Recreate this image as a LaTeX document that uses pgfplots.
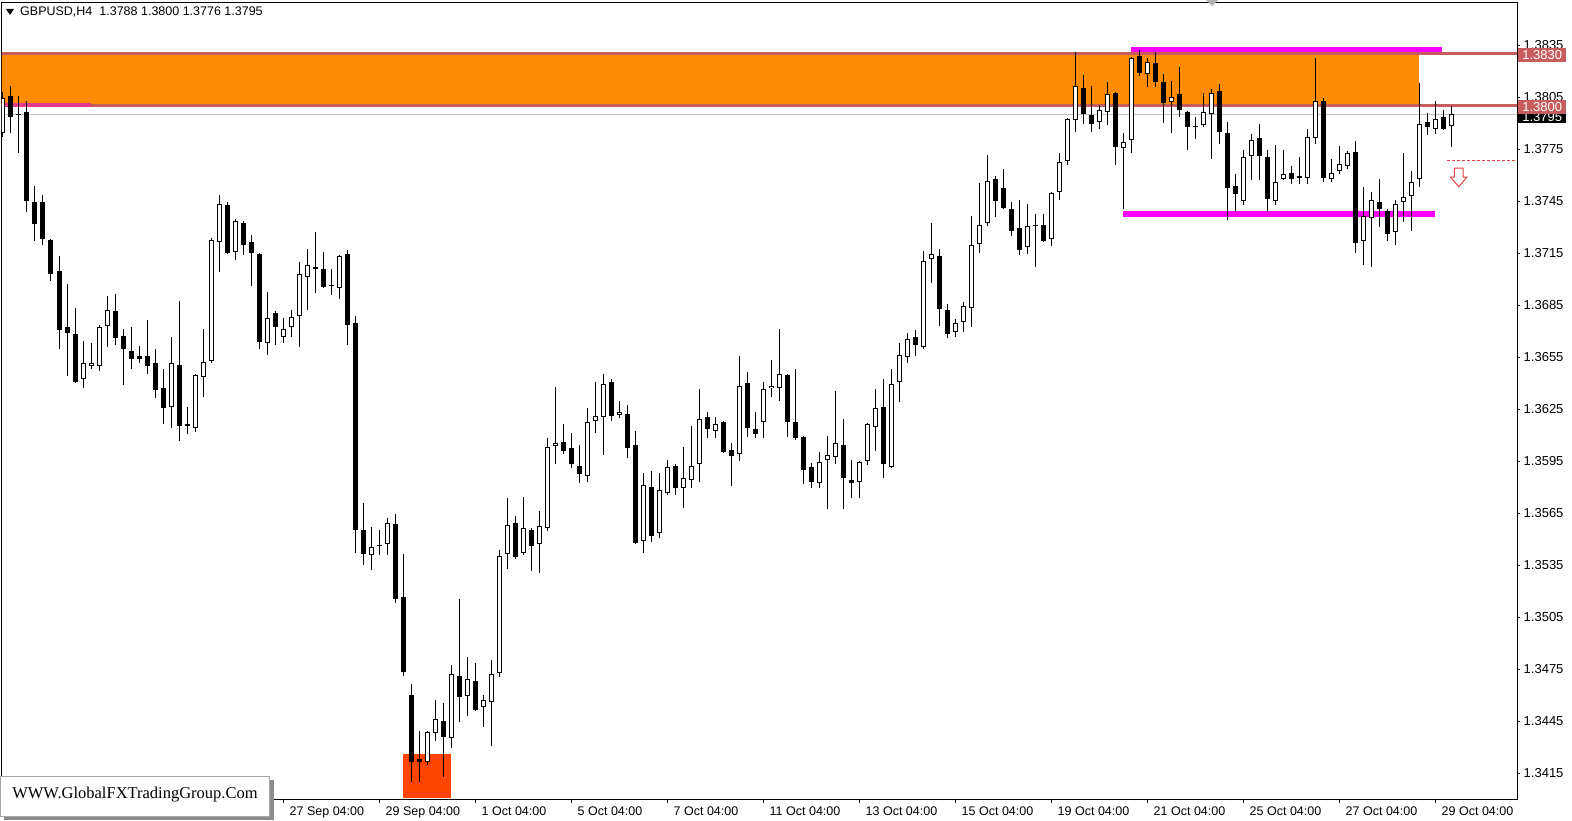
\documentclass[border=0pt]{standalone}
\usepackage{pgfplots}
\pgfplotsset{compat=1.18}
\usepackage{pgfplotstable}
\usepackage{fontspec}
\setmainfont{Liberation Sans}
\newfontfamily\wmfont{Liberation Serif}

\definecolor{zoneorange}{RGB}{255,140,0}
\definecolor{levelred}{RGB}{200,92,92}
\definecolor{mag}{RGB}{255,0,255}
\definecolor{boxred}{RGB}{255,69,0}
\definecolor{pinkline}{RGB}{232,56,140}
\definecolor{arrowred}{RGB}{224,64,64}
\definecolor{curgray}{RGB}{192,192,192}

% bullish candles: index, open, high, low, close
\pgfplotstableread{
i O H L C
0 1.37842 1.38079 1.37819 1.38044
10 1.36423 1.36642 1.36371 1.36515
11 1.36498 1.36631 1.36481 1.36515
12 1.36498 1.36735 1.36469 1.36723
13 1.36729 1.36902 1.36608 1.36821
21 1.36262 1.36665 1.36140 1.36515
24 1.36140 1.36450 1.36117 1.36446
25 1.36435 1.36712 1.36319 1.36521
26 1.36527 1.37237 1.36515 1.37225
27 1.37214 1.37485 1.37040 1.37433
29 1.37156 1.37346 1.37110 1.37335
33 1.36631 1.36925 1.36562 1.36775
35 1.36665 1.36775 1.36631 1.36712
36 1.36723 1.36821 1.36665 1.36781
37 1.36787 1.37098 1.36608 1.37029
38 1.37012 1.37173 1.36821 1.37081
42 1.36948 1.37140 1.36885 1.37133
46 1.35408 1.35569 1.35321 1.35454
47 1.35462 1.35552 1.35408 1.35468
48 1.35471 1.35621 1.35408 1.35592
53 1.34213 1.34392 1.34196 1.34386
54 1.34381 1.34571 1.34335 1.34462
56 1.34352 1.34773 1.34294 1.34721
58 1.34594 1.34819 1.34479 1.34692
60 1.34531 1.34600 1.34415 1.34571
61 1.34560 1.34802 1.34306 1.34721
62 1.34727 1.35437 1.34704 1.35402
63 1.35413 1.35737 1.35327 1.35581
65 1.35419 1.35742 1.35408 1.35564
67 1.35471 1.35662 1.35304 1.35575
68 1.35564 1.36083 1.35546 1.36031
69 1.36037 1.36377 1.35933 1.36054
73 1.35863 1.36256 1.35829 1.36175
74 1.36181 1.36406 1.36112 1.36210
75 1.36204 1.36452 1.35985 1.36394
77 1.36215 1.36296 1.36198 1.36233
80 1.35488 1.35881 1.35419 1.35812
82 1.35535 1.35881 1.35506 1.35783
83 1.35765 1.35956 1.35754 1.35915
85 1.35794 1.36031 1.35679 1.35852
86 1.35840 1.36152 1.35794 1.35921
87 1.35933 1.36365 1.35829 1.36192
89 1.36123 1.36204 1.36083 1.36163
92 1.35990 1.36556 1.35950 1.36383
95 1.36175 1.36406 1.36083 1.36365
96 1.36371 1.36533 1.36319 1.36383
97 1.36371 1.36712 1.36296 1.36452
102 1.35823 1.36002 1.35794 1.35944
103 1.35956 1.36094 1.35673 1.35985
104 1.35973 1.36354 1.35933 1.36054
107 1.35829 1.35950 1.35737 1.35944
108 1.35950 1.36170 1.35927 1.36163
109 1.36146 1.36365 1.36008 1.36256
111 1.35915 1.36481 1.35910 1.36394
112 1.36406 1.36631 1.36290 1.36562
113 1.36550 1.36689 1.36515 1.36654
115 1.36608 1.37162 1.36596 1.37104
116 1.37115 1.37323 1.36977 1.37144
119 1.36694 1.36769 1.36665 1.36746
120 1.36752 1.36867 1.36694 1.36844
121 1.36833 1.37363 1.36723 1.37196
122 1.37202 1.37554 1.37150 1.37312
123 1.37323 1.37715 1.37306 1.37565
128 1.37185 1.37433 1.37144 1.37306
131 1.37231 1.37500 1.37190 1.37496
132 1.37502 1.37727 1.37456 1.37675
133 1.37681 1.37929 1.37658 1.37923
134 1.37917 1.38310 1.37848 1.38113
137 1.37906 1.38004 1.37865 1.37975
138 1.37963 1.38137 1.37888 1.38067
140 1.37756 1.37842 1.37404 1.37790
141 1.37802 1.38281 1.37727 1.38275
143 1.38183 1.38275 1.38108 1.38252
146 1.38021 1.38142 1.37842 1.38050
150 1.37888 1.38073 1.37877 1.37963
151 1.37952 1.38096 1.37692 1.38073
155 1.37450 1.37744 1.37427 1.37704
156 1.37710 1.37837 1.37571 1.37802
159 1.37450 1.37773 1.37427 1.37560
160 1.37577 1.37744 1.37570 1.37606
162 1.37583 1.37704 1.37548 1.37594
163 1.37583 1.37865 1.37548 1.37819
164 1.37814 1.38275 1.37779 1.38027
166 1.37577 1.37692 1.37560 1.37612
167 1.37623 1.37767 1.37606 1.37664
168 1.37652 1.37739 1.37635 1.37727
170 1.37219 1.37531 1.37081 1.37363
171 1.37352 1.37502 1.37069 1.37456
174 1.37271 1.37456 1.37196 1.37433
175 1.37444 1.37727 1.37329 1.37473
176 1.37479 1.37623 1.37277 1.37560
177 1.37577 1.38131 1.37531 1.37894
179 1.37865 1.38027 1.37837 1.37923
181 1.37880 1.38000 1.37760 1.37950
}\bull

% bearish candles: index, open, high, low, close
\pgfplotstableread{
i O H L C
1 1.38056 1.38113 1.37842 1.37935
2 1.37952 1.38056 1.37727 1.37946
3 1.37963 1.38027 1.37386 1.37450
4 1.37444 1.37536 1.37219 1.37317
5 1.37444 1.37485 1.37196 1.37231
6 1.37225 1.37230 1.36988 1.37029
7 1.37046 1.37133 1.36596 1.36706
8 1.36723 1.36971 1.36440 1.36689
9 1.36683 1.36833 1.36400 1.36406
14 1.36815 1.36913 1.36619 1.36660
15 1.36671 1.36712 1.36388 1.36596
16 1.36585 1.36723 1.36481 1.36538
17 1.36556 1.36613 1.36515 1.36538
18 1.36556 1.36763 1.36452 1.36498
19 1.36515 1.36596 1.36313 1.36360
20 1.36371 1.36481 1.36163 1.36256
22 1.36504 1.36873 1.36065 1.36152
23 1.36163 1.36262 1.36106 1.36152
28 1.37427 1.37444 1.37144 1.37150
30 1.37323 1.37335 1.37139 1.37196
31 1.37214 1.37254 1.36960 1.37150
32 1.37144 1.37150 1.36596 1.36637
34 1.36804 1.36815 1.36619 1.36723
39 1.37069 1.37271 1.36919 1.37058
40 1.37058 1.37156 1.36948 1.36954
41 1.36965 1.37058 1.36908 1.36960
43 1.37144 1.37167 1.36619 1.36735
44 1.36746 1.36787 1.35419 1.35552
45 1.35552 1.35708 1.35350 1.35413
49 1.35587 1.35644 1.35131 1.35154
50 1.35165 1.35413 1.34710 1.34733
51 1.34600 1.34663 1.34098 1.34213
52 1.34231 1.34392 1.34098 1.34213
55 1.34450 1.34554 1.34127 1.34358
57 1.34710 1.35154 1.34444 1.34589
59 1.34681 1.34785 1.34510 1.34514
64 1.35592 1.35633 1.35385 1.35396
66 1.35552 1.35564 1.35315 1.35460
70 1.36060 1.36163 1.35990 1.36008
71 1.36025 1.36112 1.35910 1.35933
72 1.35921 1.36042 1.35823 1.35875
76 1.36406 1.36423 1.36181 1.36210
78 1.36221 1.36273 1.35967 1.36025
79 1.36042 1.36123 1.35470 1.35477
81 1.35800 1.35892 1.35483 1.35517
84 1.35921 1.35933 1.35754 1.35794
88 1.36204 1.36233 1.36083 1.36135
90 1.36175 1.36181 1.35998 1.36002
91 1.36013 1.36054 1.35806 1.35979
93 1.36400 1.36464 1.36089 1.36140
94 1.36135 1.36233 1.36083 1.36106
98 1.36446 1.36452 1.36089 1.36175
99 1.36175 1.36481 1.36071 1.36083
100 1.36089 1.36094 1.35817 1.35898
101 1.35915 1.35939 1.35794 1.35829
105 1.36042 1.36192 1.35673 1.35852
106 1.35840 1.35956 1.35737 1.35823
110 1.36262 1.36423 1.35852 1.35933
114 1.36665 1.36706 1.36556 1.36619
117 1.37133 1.37173 1.36729 1.36827
118 1.36821 1.36856 1.36660 1.36683
124 1.37577 1.37594 1.37358 1.37450
125 1.37525 1.37635 1.37404 1.37410
126 1.37404 1.37444 1.37248 1.37277
127 1.37294 1.37456 1.37139 1.37167
129 1.37312 1.37375 1.37069 1.37306
130 1.37312 1.37375 1.37215 1.37219
135 1.38102 1.38177 1.37894 1.37952
136 1.37946 1.38113 1.37848 1.37894
139 1.38073 1.38080 1.37658 1.37762
142 1.38287 1.38321 1.38171 1.38188
144 1.38246 1.38310 1.38108 1.38137
145 1.38137 1.38183 1.37900 1.38015
147 1.38067 1.38223 1.37935 1.37975
148 1.37963 1.37970 1.37744 1.37877
149 1.37880 1.37935 1.37808 1.37874
152 1.38085 1.38125 1.37779 1.37848
153 1.37842 1.37906 1.37340 1.37525
154 1.37536 1.37606 1.37386 1.37490
157 1.37814 1.37894 1.37571 1.37710
158 1.37704 1.37744 1.37386 1.37462
161 1.37612 1.37652 1.37548 1.37577
165 1.38027 1.38044 1.37560 1.37583
169 1.37733 1.37796 1.37150 1.37208
172 1.37444 1.37577 1.37300 1.37404
173 1.37392 1.37404 1.37219 1.37260
178 1.37906 1.37958 1.37831 1.37877
180 1.37935 1.37975 1.37860 1.37865
}\bear

\begin{document}
\begin{tikzpicture}[x=1pt,y=1pt]
\fill[white] (0,0) rectangle (1572,821);
\begin{axis}[
  at={(2pt,21pt)}, anchor=south west,
  scale only axis, width=1515pt, height=797pt,
  xmin=-0.125, xmax=189.25, ymin=1.339942, ymax=1.385923,
  axis line style={black, line width=1pt},
  clip mode=individual,
  xtick={11,23,35,47,59,71,83,95,107,119,131,143,155,167,179},
  xticklabels={21 Sep 04:00,23 Sep 04:00,27 Sep 04:00,29 Sep 04:00,1 Oct 04:00,5 Oct 04:00,7 Oct 04:00,11 Oct 04:00,13 Oct 04:00,15 Oct 04:00,19 Oct 04:00,21 Oct 04:00,25 Oct 04:00,27 Oct 04:00,29 Oct 04:00},
  ytick={1.3415,1.3445,1.3475,1.3505,1.3535,1.3565,1.3595,1.3625,1.3655,1.3685,1.3715,1.3745,1.3775,1.3805,1.3835},
  yticklabels={1.3415,1.3445,1.3475,1.3505,1.3535,1.3565,1.3595,1.3625,1.3655,1.3685,1.3715,1.3745,1.3775,1.3805,1.3835},
  xtick pos=left, ytick pos=right, yticklabel pos=right,
  tick align=outside, major tick length=3pt,
  tick style={black, line width=0.8pt},
  ticklabel style={font=\fontsize{12.5pt}{14pt}\selectfont, black},
  x tick label style={anchor=north west, inner sep=0pt, xshift=6.5pt, yshift=-4pt},
  y tick label style={anchor=west, inner sep=0pt, xshift=3.5pt, font=\fontsize{13pt}{14pt}\selectfont},
]
% supply/demand zone and levels
\addplot[draw=none, fill=zoneorange, forget plot] coordinates {(-0.2,1.3830) (177.0,1.3830) (177.0,1.3800) (-0.2,1.3800)};
\addplot[draw=none, fill=boxred, forget plot] coordinates {(50.0,1.34260) (55.96,1.34260) (55.96,1.34004) (50.0,1.34004)};
\addplot[curgray, line width=1pt, forget plot] coordinates {(-0.2,1.3795) (189.5,1.3795)};
\addplot[levelred, line width=3.2pt, forget plot] coordinates {(-0.2,1.3830) (189.5,1.3830)};
\addplot[levelred, line width=3.2pt, forget plot] coordinates {(-0.2,1.3800) (189.5,1.3800)};
\addplot[pinkline, line width=4pt, forget plot] coordinates {(-0.2,1.38006) (10.96,1.38006)};
\addplot[mag, line width=5pt, forget plot] coordinates {(141.0,1.38324) (179.9,1.38324)};
\addplot[mag, line width=5.5pt, forget plot] coordinates {(140.0,1.37375) (179.0,1.37375)};
\addplot[arrowred, line width=0.9pt, dash pattern=on 3pt off 2pt, forget plot] coordinates {(180.5,1.37681) (189.5,1.37681)};
\addplot[arrowred, line width=1pt, fill=white, forget plot] coordinates {(181.41,1.37639) (182.5,1.37639) (182.5,1.37587) (182.96,1.37587) (181.96,1.37532) (180.96,1.37587) (181.41,1.37587) (181.41,1.37639)};
% wicks
\addplot[draw=none, mark=none, forget plot, error bars/.cd, y dir=plus, y explicit, error mark=none, error bar style={draw=black, solid, line width=1pt}]
  table[x=i, y=L, y error expr=\thisrow{H}-\thisrow{L}] {\bull};
\addplot[draw=none, mark=none, forget plot, error bars/.cd, y dir=plus, y explicit, error mark=none, error bar style={draw=black, solid, line width=1pt}]
  table[x=i, y=L, y error expr=\thisrow{H}-\thisrow{L}] {\bear};
% bearish bodies
\addplot[draw=none, mark=none, forget plot, error bars/.cd, y dir=plus, y explicit, error mark=none, error bar style={draw=black, solid, line width=5pt}]
  table[x=i, y=C, y error expr=\thisrow{O}-\thisrow{C}] {\bear};
% bullish bodies: black outline then white inside
\addplot[draw=none, mark=none, forget plot, error bars/.cd, y dir=plus, y explicit, error mark=none, error bar style={draw=black, solid, line width=5pt}]
  table[x=i, y=O, y error expr=\thisrow{C}-\thisrow{O}] {\bull};
\addplot[draw=none, mark=none, forget plot, error bars/.cd, y dir=plus, y explicit, error mark=none, error bar style={draw=white, solid, line width=3pt}]
  table[x=i, y expr=\thisrow{O}+0.0000577, y error expr={max(\thisrow{C}-\thisrow{O}-0.0001154,0)}] {\bull};
% price labels on the right scale
\node[anchor=west, fill=black, text=white, inner xsep=3pt, inner ysep=0pt, minimum height=13pt, minimum width=48pt, font=\fontsize{13pt}{14pt}\selectfont] at (axis cs:189.25,1.3795) [xshift=1pt, yshift=-2.5pt] {1.3795};
\node[anchor=west, fill=levelred, text=white, inner xsep=3pt, inner ysep=0pt, minimum height=14pt, minimum width=48pt, font=\fontsize{13pt}{14pt}\selectfont] at (axis cs:189.25,1.3800) [xshift=1pt, yshift=-1.3pt] {1.3800};
\node[anchor=west, fill=levelred, text=white, inner xsep=3pt, inner ysep=0pt, minimum height=14pt, minimum width=48pt, font=\fontsize{13pt}{14pt}\selectfont] at (axis cs:189.25,1.3830) [xshift=1pt, yshift=-1.3pt] {1.3830};
\end{axis}
% header
\fill[black] (6,812) -- (14,812) -- (10,806) -- cycle;
\node[anchor=west, inner sep=0pt, font=\fontsize{12.5pt}{14pt}\selectfont] at (20,809) {GBPUSD,H4\ \ 1.3788 1.3800 1.3776 1.3795};
\fill[black!30] (1206,821) -- (1218,821) -- (1212,815) -- cycle;
% watermark
\fill[black!45] (4,1) rectangle (274,41);
\filldraw[fill=white, draw=black!35, line width=0.8pt] (0,5) rectangle (269,45);
\node[font=\wmfont\fontsize{16.5pt}{18pt}\selectfont, inner sep=0pt] at (135,26) {WWW.GlobalFXTradingGroup.Com};
\pgfresetboundingbox
\useasboundingbox (0,0) rectangle (1572,821);
\end{tikzpicture}
\end{document}
